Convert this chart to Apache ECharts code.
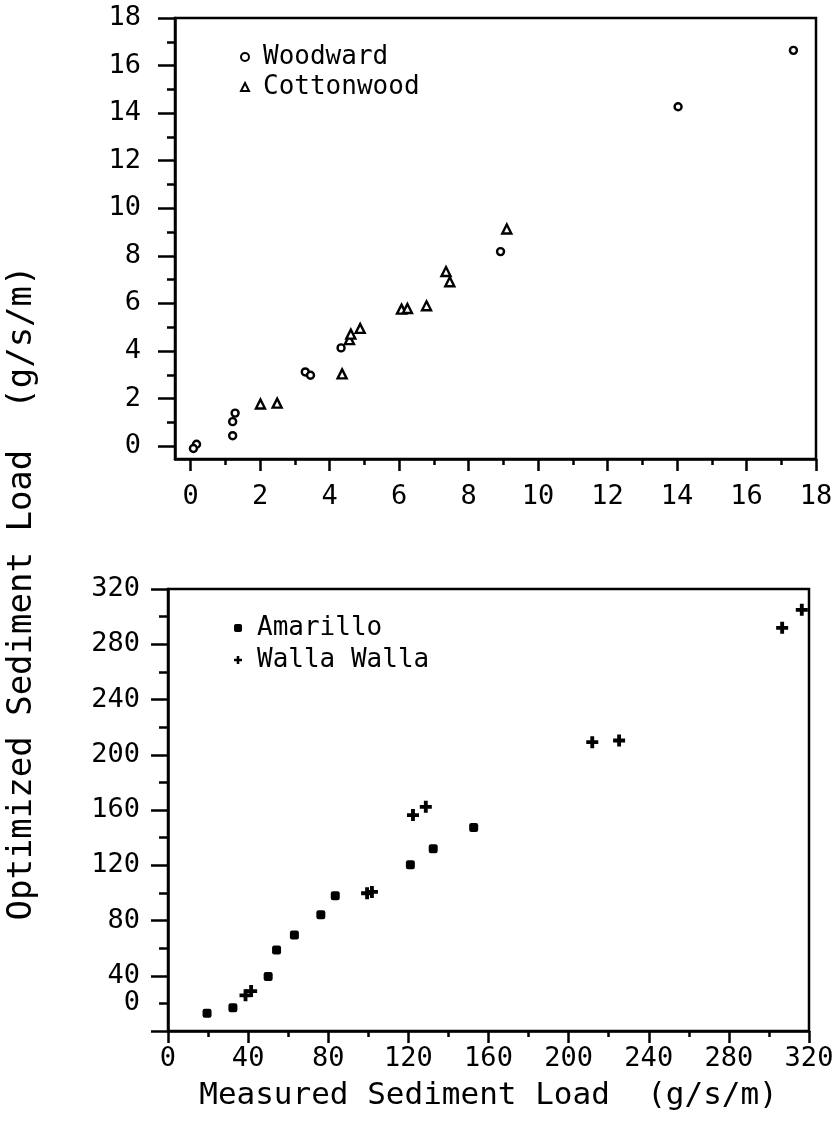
<!DOCTYPE html>
<html>
<head>
<meta charset="utf-8">
<script src="https://cdn.jsdelivr.net/npm/echarts@6/dist/echarts.min.js"></script>
<style>
html,body{margin:0;padding:0;background:#fff;}
#chart{width:840px;height:1129px;}
</style>
</head>
<body>
<div id="chart"></div>
<script>
// ---- data ----
const woodward = [[17.35,16.64],[14.03,14.27],[8.92,8.18],[4.33,4.13],[3.30,3.12],[3.45,2.98],
  [1.28,1.39],[1.21,1.03],[1.21,0.44],[0.17,0.08],[0.08,-0.10]];
const cottonwood = [[2.01,1.77],[2.49,1.81],[4.36,3.04],[4.57,4.48],[4.61,4.71],[4.88,4.95],
  [6.07,5.76],[6.24,5.79],[6.79,5.90],[7.35,7.34],[7.46,6.91],[9.10,9.13]];
const amarillo = [[19.5,12.8],[32.4,16.8],[50.0,39.5],[54.2,58.6],[63.1,69.5],[76.3,84.2],
  [83.5,98.0],[121.0,120.3],[132.4,131.9],[152.6,147.3]];
const wallaWalla = [[38.7,25.8],[41.5,28.9],[99.4,99.7],[101.8,100.7],[122.3,156.3],[128.7,162.3],
  [211.8,209.1],[225.2,210.3],[306.6,291.9],[316.4,304.9]];

const topMajorTicks = [0,2,4,6,8,10,12,14,16,18];
const topMinorTicks = [1,3,5,7,9,11,13,15,17];
const bottomMajorTicks = [0,40,80,120,160,200,240,280,320];
const bottomMinorTicks = [20,60,100,140,180,220,260,300];
// the reference prints its "0" y label beside the first minor tick
const bottomYLabelValues = [20,40,80,120,160,200,240,280,320];
const bottomYLabelTexts  = ['0','40','80','120','160','200','240','280','320'];

const FONT = 'DejaVu Sans Mono';
const BLACK = '#000';
const lineW = 2.5;

const chart = echarts.init(document.getElementById('chart'), null, {renderer:'canvas'});

function labelStyle(extra){
  return Object.assign({fontFamily:FONT, fontSize:27, color:BLACK}, extra||{});
}

const plusPath = 'path://M3.4,0H6.6V3.4H10V6.6H6.6V10H3.4V6.6H0V3.4H3.4Z';

const option = {
  backgroundColor:'#fff',
  animation:false,
  grid:[
    {left:175, right:24, top:18, height:441, show:true, borderColor:BLACK, borderWidth:lineW, containLabel:false},
    {left:168, right:31, top:589, height:442, show:true, borderColor:BLACK, borderWidth:lineW, containLabel:false}
  ],
  xAxis:[
    {gridIndex:0, type:'value', min:-0.45, max:18, position:'bottom',
     axisLine:{onZero:false, lineStyle:{color:BLACK, width:lineW}},
     axisTick:{customValues:topMajorTicks, length:12, lineStyle:{color:BLACK, width:lineW}},
     axisLabel:labelStyle({customValues:topMajorTicks, margin:24}),
     splitLine:{show:false}},
    {gridIndex:0, type:'value', min:-0.45, max:18, position:'bottom',
     axisLine:{show:false, onZero:false},
     axisTick:{customValues:topMinorTicks, length:6, lineStyle:{color:BLACK, width:lineW}},
     axisLabel:{show:false}, splitLine:{show:false}},
    {gridIndex:1, type:'value', min:0, max:320, position:'bottom',
     axisLine:{onZero:false, lineStyle:{color:BLACK, width:lineW}},
     axisTick:{customValues:bottomMajorTicks, length:12, lineStyle:{color:BLACK, width:lineW}},
     axisLabel:labelStyle({customValues:bottomMajorTicks, margin:14}),
     splitLine:{show:false},
     name:'Measured Sediment Load  (g/s/m)', nameLocation:'middle', nameGap:49,
     nameTextStyle:{fontFamily:FONT, fontSize:31, color:BLACK}},
    {gridIndex:1, type:'value', min:0, max:320, position:'bottom',
     axisLine:{show:false, onZero:false},
     axisTick:{customValues:bottomMinorTicks, length:6, lineStyle:{color:BLACK, width:lineW}},
     axisLabel:{show:false}, splitLine:{show:false}}
  ],
  yAxis:[
    {gridIndex:0, type:'value', min:-0.54, max:18, position:'left',
     axisLine:{onZero:false, lineStyle:{color:BLACK, width:lineW}},
     axisTick:{customValues:topMajorTicks, length:17, lineStyle:{color:BLACK, width:lineW}},
     axisLabel:labelStyle({customValues:topMajorTicks, margin:34}),
     splitLine:{show:false}},
    {gridIndex:0, type:'value', min:-0.54, max:18, position:'left',
     axisLine:{show:false, onZero:false},
     axisTick:{customValues:topMinorTicks, length:8, lineStyle:{color:BLACK, width:lineW}},
     axisLabel:{show:false}, splitLine:{show:false}},
    {gridIndex:1, type:'value', min:0, max:320, position:'left',
     axisLine:{onZero:false, lineStyle:{color:BLACK, width:lineW}},
     axisTick:{customValues:bottomMajorTicks, length:17, lineStyle:{color:BLACK, width:lineW}},
     axisLabel:labelStyle({customValues:bottomYLabelValues, margin:28,
       formatter:function(v){ const i = bottomYLabelValues.indexOf(v); return i>=0 ? bottomYLabelTexts[i] : ''; }}),
     splitLine:{show:false}},
    {gridIndex:1, type:'value', min:0, max:320, position:'left',
     axisLine:{show:false, onZero:false},
     axisTick:{customValues:bottomMinorTicks, length:9, lineStyle:{color:BLACK, width:lineW}},
     axisLabel:{show:false}, splitLine:{show:false}}
  ],
  legend:[
    {data:['Woodward','Cottonwood'], orient:'vertical', left:235, top:37,
     itemWidth:8, itemHeight:8, itemGap:0, selectedMode:false,
     textStyle:{fontFamily:FONT, fontSize:26, color:BLACK, lineHeight:30, padding:[0,0,0,9]}},
    {data:['Amarillo','Walla Walla'], orient:'vertical', left:229, top:607,
     itemWidth:8, itemHeight:8, itemGap:0, selectedMode:false,
     textStyle:{fontFamily:FONT, fontSize:26, color:BLACK, lineHeight:32, padding:[0,0,0,10]}}
  ],
  graphic:[
    {type:'text', x:22, y:593, rotation:Math.PI/2,
     style:{text:'Optimized Sediment Load  (g/s/m)', fontFamily:FONT, fontSize:34, fill:BLACK,
            textAlign:'center', textVerticalAlign:'middle'}}
  ],
  series:[
    {name:'Woodward', type:'scatter', xAxisIndex:0, yAxisIndex:0, data:woodward,
     symbol:'circle', symbolSize:7,
     itemStyle:{color:'#fff', borderColor:BLACK, borderWidth:2.4, opacity:1}},
    {name:'Cottonwood', type:'scatter', xAxisIndex:0, yAxisIndex:0, data:cottonwood,
     symbol:'triangle', symbolSize:9,
     itemStyle:{color:'#fff', borderColor:BLACK, borderWidth:2.4, opacity:1}},
    {name:'Amarillo', type:'scatter', xAxisIndex:2, yAxisIndex:2, data:amarillo,
     symbol:'roundRect', symbolSize:9,
     itemStyle:{color:BLACK, opacity:1}},
    {name:'Walla Walla', type:'scatter', xAxisIndex:2, yAxisIndex:2, data:wallaWalla,
     symbol:plusPath, symbolSize:12,
     itemStyle:{color:BLACK, opacity:1}}
  ]
};
chart.setOption(option);
</script>
</body>
</html>
